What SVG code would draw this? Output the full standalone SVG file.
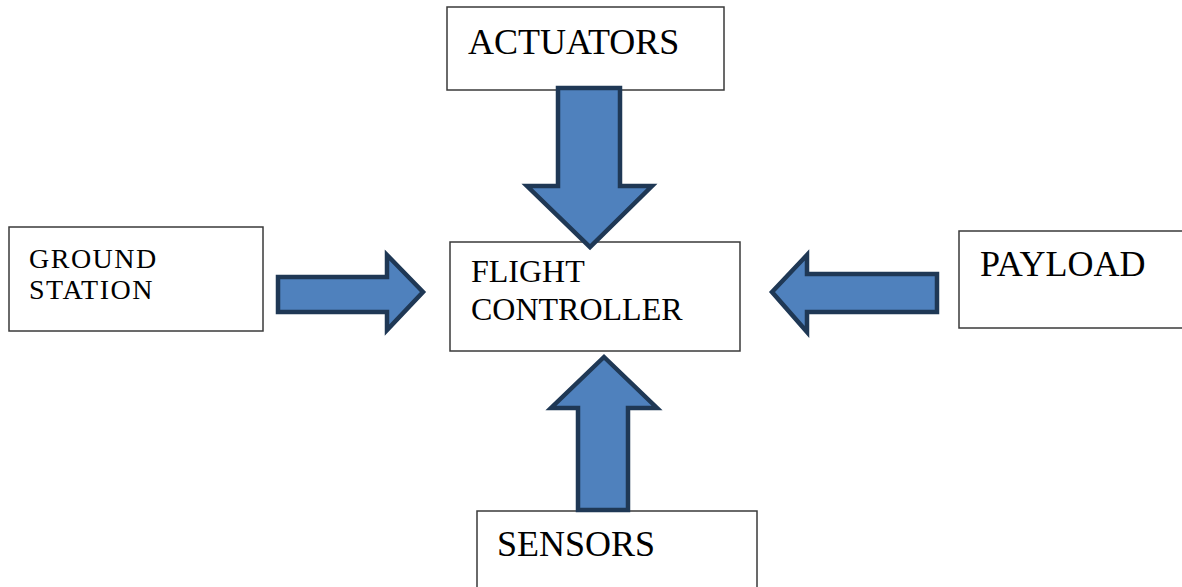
<svg xmlns="http://www.w3.org/2000/svg" width="1182" height="587" viewBox="0 0 1182 587">
<style>
.box{fill:#fff;stroke:#3a3a3a;stroke-width:1.5}
.lbl{font-family:"Liberation Serif","Times New Roman",serif;fill:#000}
.arrow{fill:#4F81BD;stroke:#1F3855;stroke-width:4.5;stroke-linejoin:miter}
</style>
<rect width="1182" height="587" fill="#fff"/>
<g id="actuators"><rect class="box" x="447" y="7" width="277" height="83"/><text class="lbl" x="468" y="54" font-size="36">ACTUATORS</text></g>
<g id="ground-station"><rect class="box" x="9" y="227" width="254" height="104"/><text class="lbl" x="29" y="268" font-size="28" letter-spacing="1.5">GROUND</text><text class="lbl" x="29" y="299" font-size="28" letter-spacing="1.5">STATION</text></g>
<g id="flight-controller"><rect class="box" x="450" y="242" width="290" height="109"/><text class="lbl" x="471" y="282" font-size="32">FLIGHT</text><text class="lbl" x="471" y="320" font-size="32">CONTROLLER</text></g>
<g id="payload"><rect class="box" x="959" y="231" width="230" height="97"/><text class="lbl" x="980" y="276" font-size="36">PAYLOAD</text></g>
<g id="sensors"><rect class="box" x="477" y="511" width="280" height="90"/><text class="lbl" x="497" y="556" font-size="36">SENSORS</text></g>
<g id="connectors">
<path class="arrow" d="M558,88 L620,88 L620,186 L652,186 L590,247 L527,186 L558,186 Z"/>
<path class="arrow" d="M278,277 L387,277 L387,255 L423,292 L387,330 L387,312 L278,312 Z"/>
<path class="arrow" d="M937,274 L807,274 L807,255 L772,292 L807,332 L807,312 L937,312 Z"/>
<path class="arrow" d="M578,510 L578,408 L551,408 L604,357 L657,408 L628,408 L628,510 Z"/>
</g>
</svg>
